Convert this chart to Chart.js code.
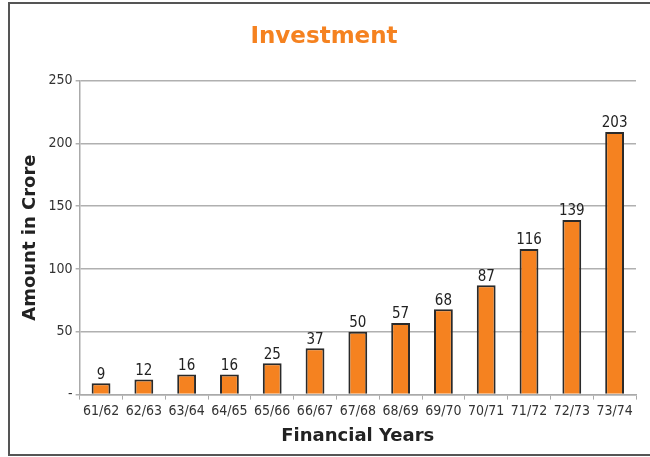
<!DOCTYPE html>
<html>
<head>
<meta charset="utf-8">
<script src="https://cdn.jsdelivr.net/npm/chart.js@4"></script>
<style>
  html, body { margin: 0; padding: 0; background: #fff; }
  #wrap { position: relative; width: 650px; height: 457px; overflow: hidden; }
  #frame {
    position: absolute; left: 8px; top: 2px; width: 700px; height: 454px;
    box-sizing: border-box; border: 2px solid #555; pointer-events: none;
  }
  canvas { position: absolute; left: 0; top: 0; }
</style>
</head>
<body>
<div id="wrap">
  <canvas id="chart" width="650" height="457"></canvas>
  <div id="frame"></div>
</div>
<script>
// Investimento por ano fiscal (em crore)
const anos = ["61/62", "62/63", "63/64", "64/65", "65/66", "66/67", "67/68",
  "68/69", "69/70", "70/71", "71/72", "72/73", "73/74"];
const valores = [9, 12, 16, 16, 25, 37, 50, 57, 68, 87, 116, 139, 209];
const rotulos = ["9", "12", "16", "16", "25", "37", "50", "57", "68", "87", "116", "139", "203"];
const ticksY = [0, 50, 100, 150, 200, 250];

const LARANJA = "#f58220";
const NARROW = "'Liberation Sans Narrow', 'DejaVu Sans Condensed', sans-serif";

// escreve o valor em cima de cada barra
const rotuloBarras = {
  id: "rotuloBarras",
  afterDatasetsDraw(chart) {
    const ctx = chart.ctx;
    const meta = chart.getDatasetMeta(0);
    ctx.save();
    ctx.font = "15px " + NARROW;
    ctx.fillStyle = "#222";
    ctx.textAlign = "center";
    ctx.textBaseline = "bottom";
    meta.data.forEach((bar, i) => {
      ctx.fillText(rotulos[i], bar.x, bar.y - 1);
    });
    ctx.restore();
  },
};

new Chart(document.getElementById("chart"), {
  type: "bar",
  data: {
    labels: anos,
    datasets: [{
      data: valores,
      backgroundColor: LARANJA,
      borderColor: "#2a2a2a",
      borderWidth: 2,
      categoryPercentage: 1,
      barPercentage: 0.44,
    }],
  },
  options: {
    responsive: false,
    animation: false,
    layout: { padding: { left: 12, right: 14, top: 0, bottom: 10 } },
    scales: {
      x: {
        grid: { drawOnChartArea: false, color: "#aaa", tickLength: 5, offset: true },
        border: { color: "#aaa", width: 1.5 },
        ticks: { color: "#333", font: { family: NARROW, size: 14 }, padding: 3, maxRotation: 0 },
        title: {
          display: true, text: "Financial Years", color: "#222",
          font: { family: "'DejaVu Sans', sans-serif", size: 18, weight: "bold" },
          padding: { top: 3, bottom: 0 },
        },
      },
      y: {
        min: 0, max: 250,
        afterBuildTicks: (axis) => { axis.ticks = ticksY.map((v) => ({ value: v })); },
        grid: { color: "#b0b0b0", lineWidth: 1.5, tickLength: 4 },
        border: { color: "#aaa", width: 1.5 },
        ticks: {
          color: "#333", font: { family: NARROW, size: 14 }, padding: 3,
          callback: (v) => (v === 0 ? "-" : v),
        },
        title: {
          display: true, text: "Amount in Crore", color: "#222",
          font: { family: "'DejaVu Sans', sans-serif", size: 18, weight: "bold" },
          padding: { top: 8, bottom: 4 },
        },
      },
    },
    plugins: {
      legend: { display: false },
      tooltip: { enabled: false },
      title: {
        display: true, text: "Investment", color: LARANJA,
        font: { family: "'DejaVu Sans', sans-serif", size: 23, weight: "bold" },
        padding: { top: 23, bottom: 30 },
      },
    },
  },
  plugins: [rotuloBarras],
});
</script>
</body>
</html>
